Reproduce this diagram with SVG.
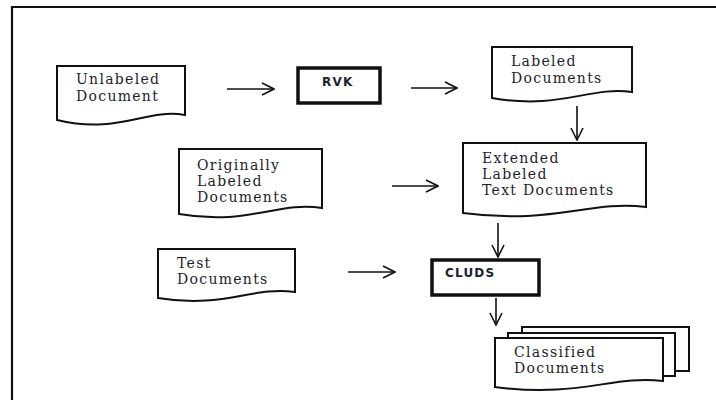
<svg xmlns="http://www.w3.org/2000/svg" width="716" height="400" viewBox="0 0 716 400">
<defs>
<style>
.doc{fill:#fff;stroke:#111;stroke-width:2}
.proc{fill:#fff;stroke:#111;stroke-width:3.5}
.lbl{font-family:"DejaVu Serif","Liberation Serif",serif;font-size:14px;fill:#1e1e2c;letter-spacing:1.3px}
.ptxt{font-family:"DejaVu Sans","Liberation Sans",sans-serif;font-size:12px;font-weight:bold;fill:#1e1e2c;letter-spacing:1.2px}
.arr{fill:none;stroke:#111;stroke-width:1.6}
.frame{fill:none;stroke:#111;stroke-width:2.2}
</style>
<marker id="ah" viewBox="0 0 14 14" refX="13" refY="7" markerWidth="14" markerHeight="14" markerUnits="userSpaceOnUse" orient="auto">
<path d="M1,1 L13,7 L1,13" fill="none" stroke="#111" stroke-width="1.6"/>
</marker>
</defs>
<rect width="716" height="400" fill="#fff"/>
<path class="frame" d="M12,400 V7 H716"/>

<g id="unlabeled-document">
<path class="doc" d="M57,66 H185 V115 C146,108 118,135 57,120 Z"/>
<text class="lbl" x="76" y="84">Unlabeled</text>
<text class="lbl" x="76" y="101">Document</text>
</g>

<g id="rvk">
<rect class="proc" x="298" y="68" width="82" height="35"/>
<text class="ptxt" x="322" y="86">RVK</text>
</g>

<g id="labeled-documents">
<path class="doc" d="M492,47 H632 V92 C590,86 560,110 492,98 Z"/>
<text class="lbl" x="511" y="66">Labeled</text>
<text class="lbl" x="511" y="83">Documents</text>
</g>

<g id="originally-labeled-documents">
<path class="doc" d="M179,149 H322 V208 C278,201 248,226 179,214 Z"/>
<text class="lbl" x="197" y="170">Originally</text>
<text class="lbl" x="197" y="186">Labeled</text>
<text class="lbl" x="197" y="202">Documents</text>
</g>

<g id="extended-labeled-text-documents">
<path class="doc" d="M463,143 H646 V207 C590,200 552,225 463,213 Z"/>
<text class="lbl" x="482" y="163">Extended</text>
<text class="lbl" x="482" y="179">Labeled</text>
<text class="lbl" x="482" y="195">Text Documents</text>
</g>

<g id="test-documents">
<path class="doc" d="M158,249 H295 V292 C252,286 224,309 158,298 Z"/>
<text class="lbl" x="177" y="268">Test</text>
<text class="lbl" x="177" y="284">Documents</text>
</g>

<g id="cluds">
<rect class="proc" x="432" y="260" width="107" height="35"/>
<text class="ptxt" x="445" y="277">CLUDS</text>
</g>

<g id="classified-documents">
<rect class="doc" x="522" y="327" width="167" height="44"/>
<rect class="doc" x="508" y="333" width="167" height="43"/>
<path class="doc" d="M495,338 H663 V381 C612,375 580,398 495,387 Z"/>
<text class="lbl" x="514" y="357">Classified</text>
<text class="lbl" x="514" y="373">Documents</text>
</g>

<g id="connectors">
<line class="arr" x1="227" y1="89" x2="274" y2="89" marker-end="url(#ah)"/>
<line class="arr" x1="411" y1="88" x2="457" y2="88" marker-end="url(#ah)"/>
<line class="arr" x1="577" y1="106" x2="577" y2="140" marker-end="url(#ah)"/>
<line class="arr" x1="392" y1="186" x2="438" y2="186" marker-end="url(#ah)"/>
<line class="arr" x1="498" y1="223" x2="498" y2="257" marker-end="url(#ah)"/>
<line class="arr" x1="348" y1="272" x2="395" y2="272" marker-end="url(#ah)"/>
<line class="arr" x1="496" y1="298" x2="496" y2="325" marker-end="url(#ah)"/>
</g>
</svg>
